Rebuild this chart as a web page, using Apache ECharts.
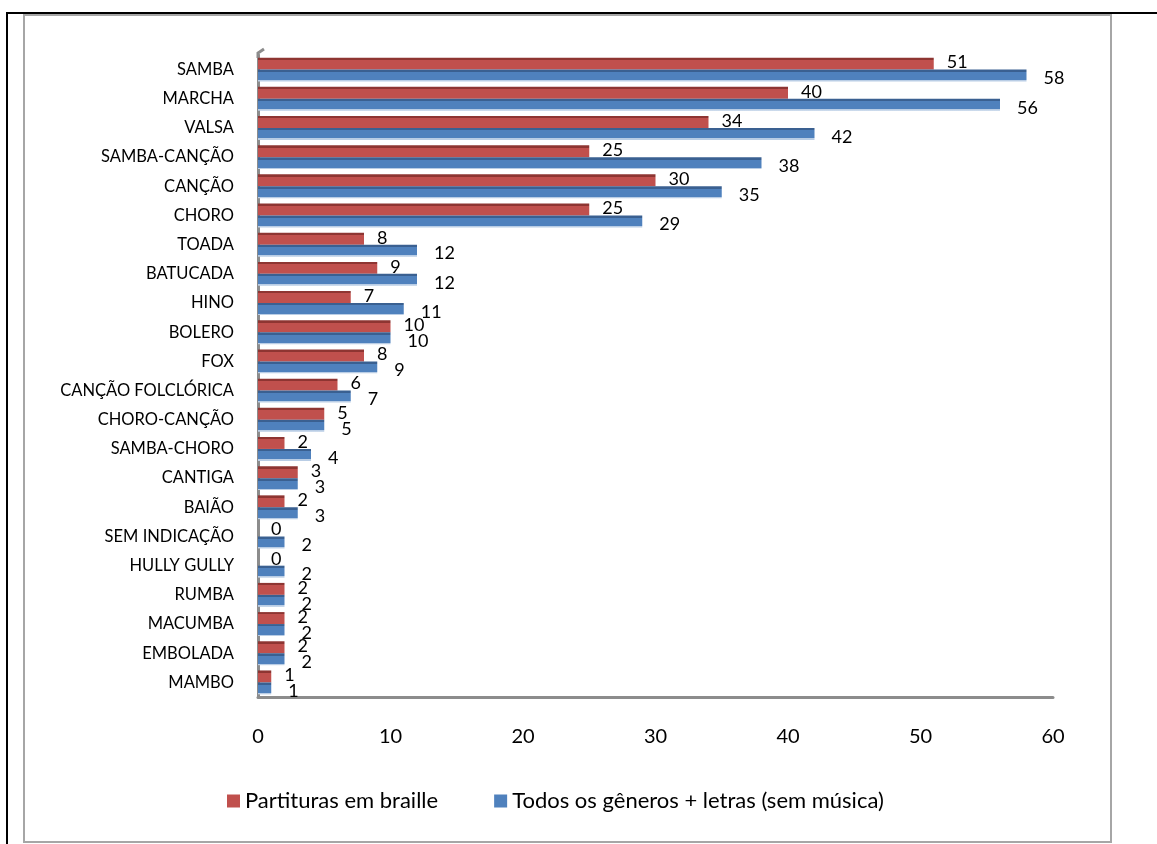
<!DOCTYPE html>
<html>
<head>
<meta charset="utf-8">
<script src="https://cdn.jsdelivr.net/npm/echarts@6/dist/echarts.min.js"></script>
<style>
  html, body { margin: 0; padding: 0; background: #fff; }
  #chart { width: 1157px; height: 844px; }
</style>
</head>
<body>
<div id="chart"></div>
<script>
// Genres, listed top to bottom
const genres = [
  'SAMBA', 'MARCHA', 'VALSA', 'SAMBA-CANÇÃO', 'CANÇÃO', 'CHORO', 'TOADA',
  'BATUCADA', 'HINO', 'BOLERO', 'FOX', 'CANÇÃO FOLCLÓRICA', 'CHORO-CANÇÃO',
  'SAMBA-CHORO', 'CANTIGA', 'BAIÃO', 'SEM INDICAÇÃO', 'HULLY GULLY', 'RUMBA',
  'MACUMBA', 'EMBOLADA', 'MAMBO'
];
const braille = [51, 40, 34, 25, 30, 25, 8, 9, 7, 10, 8, 6, 5, 2, 3, 2, 0, 0, 2, 2, 2, 1];
const todos   = [58, 56, 42, 38, 35, 29, 12, 12, 11, 10, 9, 7, 5, 4, 3, 3, 2, 2, 2, 2, 2, 1];
const seriesNames = ['Partituras em braille', 'Todos os gêneros + letras (sem música)'];
const xTicks = [0, 10, 20, 30, 40, 50, 60];

const FONT = 'Lato, "Open Sans", sans-serif';
const RED = '#C0504D';
const BLUE = '#4F81BD';

// Bar fill with a darker strip on top to give the bars some depth
function shaded(top, main, bottom) {
  return new echarts.graphic.LinearGradient(0, 0, 0, 1, [
    { offset: 0, color: top },
    { offset: 0.2, color: top },
    { offset: 0.2, color: main },
    { offset: 0.88, color: main },
    { offset: 0.88, color: bottom },
    { offset: 1, color: bottom }
  ]);
}

// Per-bar items carry the shaded fill; the series colour stays flat for the legend
function shadedItems(values, fill) {
  return values.map(v => ({ value: v, itemStyle: { color: fill } }));
}

const chart = echarts.init(document.getElementById('chart'), null, { renderer: 'canvas' });

const labelBase = {
  show: true,
  position: 'right',
  distance: 13,
  fontFamily: FONT,
  fontSize: 18,
  color: '#000'
};

chart.setOption({
  animation: false,
  backgroundColor: '#fff',
  graphic: [
    // outer black frame (top and left edges)
    { type: 'line', shape: { x1: 6, y1: 13, x2: 1157, y2: 13 }, style: { stroke: '#000', lineWidth: 2 } },
    { type: 'line', shape: { x1: 7, y1: 13, x2: 7, y2: 844 }, style: { stroke: '#000', lineWidth: 2 } },
    // chart area border
    { type: 'rect', shape: { x: 24, y: 15, width: 1087, height: 827 }, style: { fill: 'none', stroke: '#A6A6A6', lineWidth: 2 } },
    // slanted top of the category wall
    { type: 'polyline', shape: { points: [[258, 58], [258, 53], [264, 49]] }, style: { stroke: '#8C8C8C', lineWidth: 3, fill: 'none' } }
  ],
  legend: {
    bottom: 27,
    left: 222,
    itemWidth: 13,
    itemHeight: 13,
    itemGap: 56,
    icon: 'rect',
    itemStyle: { borderWidth: 0 },
    textStyle: { fontFamily: FONT, fontSize: 22, color: '#000' },
    data: seriesNames
  },
  grid: { left: 258, right: 104, top: 55, bottom: 147, containLabel: false },
  xAxis: {
    type: 'value',
    min: xTicks[0],
    max: xTicks[xTicks.length - 1],
    interval: 10,
    axisLine: { show: true, lineStyle: { color: '#8C8C8C', width: 3 } },
    axisTick: { show: false },
    splitLine: { show: false },
    axisLabel: { fontFamily: FONT, fontSize: 20, color: '#000', margin: 30 }
  },
  yAxis: {
    type: 'category',
    inverse: true,
    data: genres,
    axisLine: { show: true, lineStyle: { color: '#8C8C8C', width: 3 } },
    axisTick: { show: false },
    axisLabel: { fontFamily: FONT, fontSize: 16.5, color: '#000', margin: 24 }
  },
  series: [
    {
      name: seriesNames[0],
      type: 'bar',
      data: shadedItems(braille, shaded('#8E3532', RED, RED)),
      barGap: '0%',
      barCategoryGap: '18%',
      itemStyle: { color: RED },
      label: Object.assign({}, labelBase, { offset: [0, -1] })
    },
    {
      name: seriesNames[1],
      type: 'bar',
      data: shadedItems(todos, shaded('#3A6091', BLUE, '#B9CDE5')),
      itemStyle: { color: BLUE },
      label: Object.assign({}, labelBase, { offset: [4, 3] })
    }
  ]
});
</script>
</body>
</html>
